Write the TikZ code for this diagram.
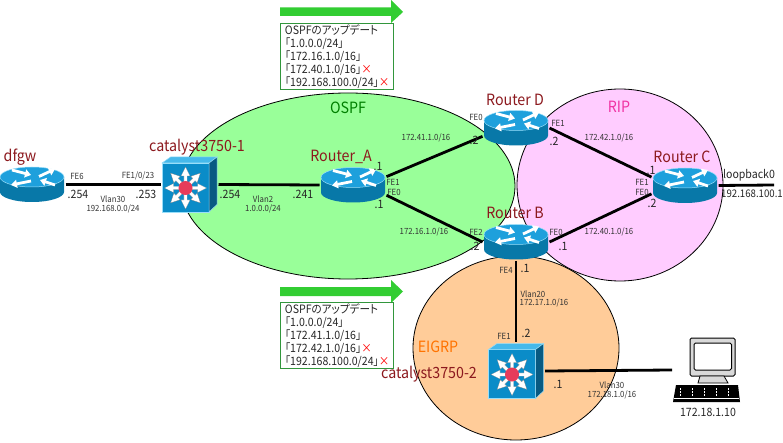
\documentclass[tikz,border=0pt]{standalone}
\usepackage{fontspec}
\setmainfont[FakeStretch=0.92,RawFeature=+palt]{Noto Sans CJK JP}
\usetikzlibrary{arrows.meta}

\definecolor{routertop}{RGB}{30,160,220}
\definecolor{routerside}{RGB}{8,120,168}
\definecolor{switchfront}{RGB}{10,140,200}
\definecolor{switchtop}{RGB}{70,185,235}
\definecolor{switchside}{RGB}{8,90,130}
\definecolor{switchhub}{RGB}{230,60,90}
\definecolor{namered}{RGB}{140,25,30}
\definecolor{ospfgreen}{RGB}{153,255,153}
\definecolor{ripviolet}{RGB}{255,204,255}
\definecolor{eigrporange}{RGB}{255,204,153}
\definecolor{arrowgreen}{RGB}{50,205,50}
\definecolor{boxgreen}{RGB}{50,150,60}

\tikzset{
    area/.style={draw=black, line width=0.8pt},
    linkline/.style={draw=black, line width=2.8pt},
    routerbox/.style={minimum width=67pt, minimum height=38pt, inner sep=0pt, outer sep=0pt},
    switchbox/.style={minimum width=56pt, minimum height=56pt, inner sep=0pt, outer sep=1pt},
    hostbox/.style={minimum width=68pt, minimum height=66pt, inner sep=0pt, outer sep=0pt},
    namelabel/.style={text=namered, inner sep=0pt, font=\fontsize{15.5}{16}\selectfont},
    tinylabel/.style={text=black!80, inner sep=0pt, font=\fontsize{8.5}{9}\selectfont},
    midlabel/.style={text=black!85, inner sep=0pt, font=\fontsize{11.5}{12}\selectfont},
    updatebox/.style={draw=boxgreen, line width=0.8pt, anchor=north west, align=left,
        text width=104pt, minimum height=65pt, inner xsep=4.5pt, inner ysep=1pt,
        text=black!85, font=\fontsize{11.5}{13}\selectfont},
    routerarrow/.style={white, line width=2.8pt, -{Triangle[width=8pt,length=6pt]}},
    routericon/.pic={
        \fill[routerside] (-32,-7.5) -- (-32,7.5) arc[start angle=180, end angle=360, x radius=32pt, y radius=10pt] -- (32,-7.5) -- cycle;
        \fill[routertop, draw=cyan!40, line width=0.5pt] (0,-7.5) ellipse [x radius=32pt, y radius=10pt];
        \draw[routerarrow] (-20,-14.5) -- (-1,-9.5);
        \draw[routerarrow] (7,-8) -- (23,-15.5);
        \draw[routerarrow] (-1,-3.5) -- (-21,0.5);
        \draw[routerarrow] (23,0.5) -- (8,-4.5);
    },
    switchicon/.pic={
        \fill[switchfront, draw=cyan!40, line width=0.5pt] (-27.5,-21.5) rectangle (19.5,27.5);
        \fill[switchtop, draw=cyan!40, line width=0.5pt] (-27.5,-21.5) -- (-19,-27.5) -- (27.5,-27.5) -- (19.5,-21.5) -- cycle;
        \fill[switchside, draw=cyan!40, line width=0.5pt] (19.5,-21.5) -- (27.5,-27.5) -- (27.5,20) -- (19.5,27.5) -- cycle;
        \foreach \ang in {0,45,...,315} {
            \fill[white, draw=black!50, line width=0.2pt, rotate around={\ang:(-4,3.5)}]
                (-4,1.9) -- (8,1.9) -- (8,-1) -- (17,3.5) -- (8,8) -- (8,5.1) -- (-4,5.1) -- cycle;
        }
        \fill[switchhub] (-4,3.5) circle (7pt);
    },
    hosticon/.pic={
        \fill[black!15, draw=black, line width=1pt, rounded corners=1.5pt] (-16,-32) rectangle (29,6);
        \fill[white, draw=black, line width=1pt, rounded corners=1.5pt] (-12,-27) rectangle (25.5,0);
        \fill[black!15, draw=black, line width=0.8pt] (-6,6) -- (18,6) -- (22,13) -- (-8,13) -- cycle;
        \fill[black] (-30,15) -- (32,15) -- (34,32) -- (-33,32) -- cycle;
        \draw[white, line width=0.6pt] (-32,28.5) -- (33,28.5);
        \foreach \keyx in {-26,-14,...,30} {
            \draw[white, line width=0.4pt, densely dotted] (\keyx,18) -- (\keyx,26);
        }
    }
}

\begin{document}
\begin{tikzpicture}[x=1pt,y=-1pt]
    \useasboundingbox (0,0) rectangle (783,443);

    % routing areas
    \draw[area, fill=ospfgreen] (348,186) ellipse [x radius=167pt, y radius=93pt];
    \draw[area, fill=ripviolet] (620,185) ellipse [x radius=103pt, y radius=96pt];
    \draw[area, fill=eigrporange] (516,348) ellipse [x radius=103pt, y radius=92pt];

    % devices
    \node[routerbox] (dfgw) at (32,184.5) {};
    \node[switchbox] (catalystone) at (189.5,184.5) {};
    \node[routerbox] (routerA) at (353,185) {};
    \node[routerbox] (routerD) at (516,128) {};
    \node[routerbox] (routerB) at (516,242) {};
    \node[routerbox] (routerC) at (685,185.5) {};
    \node[switchbox] (catalysttwo) at (516,371) {};
    \node[hostbox] (host) at (706,370) {};
    \coordinate (loopend) at (774,185);

    % links
    \draw[linkline] (dfgw.east) -- (catalystone.west);
    \draw[linkline] (catalystone.east) -- (routerA.west);
    \draw[linkline] (routerA.14) -- (routerD.194);
    \draw[linkline] (routerA.-17) -- (routerB.west);
    \draw[linkline] (routerD.east) -- (routerC.166);
    \draw[linkline] (routerB.east) -- (routerC.194);
    \draw[linkline] (routerC.east) -- (loopend);
    \draw[linkline] (routerB.south) -- (catalysttwo.north);
    \draw[linkline] (catalysttwo.east) -- (host.west);

    \pic at (dfgw.center) {routericon};
    \pic at (routerA.center) {routericon};
    \pic at (routerD.center) {routericon};
    \pic at (routerB.center) {routericon};
    \pic at (routerC.center) {routericon};
    \pic at (catalystone.center) {switchicon};
    \pic at (catalysttwo.center) {switchicon};
    \pic at (host.center) {hosticon};

    % area names
    \node[inner sep=0pt, text=green!50!black, font=\fontsize{15.5}{16}\selectfont] (ospfname) at (348,108) {OSPF};
    \node[inner sep=0pt, text=magenta!80!white, font=\fontsize{15.5}{16}\selectfont] (ripname) at (619,107) {RIP};
    \node[inner sep=0pt, text=orange!90!red, font=\fontsize{15.5}{16}\selectfont] (eigrpname) at (438,347) {EIGRP};

    % device names
    \node[namelabel] (dfgwname) at (20,157) {dfgw};
    \node[namelabel] (catalystonename) at (197,147) {catalyst3750-1};
    \node[namelabel] (routerAname) at (341,157) {Router\_A};
    \node[namelabel] (routerDname) at (515,100) {Router D};
    \node[namelabel] (routerBname) at (515,213) {Router B};
    \node[namelabel] (routerCname) at (682,157) {Router C};
    \node[namelabel] (catalysttwoname) at (429,374) {catalyst3750-2};

    % update notes
    \fill[arrowgreen] (280,7.3) -- (391,7.3) -- (391,0) -- (403,12) -- (391,23) -- (391,16) -- (280,16) -- cycle;
    \node[updatebox] (updatetop) at (280,23) {OSPFのアップデート\\「1.0.0.0/24」\\「172.16.1.0/16」\\「172.40.1.0/16」{\color{red}×}\\「192.168.100.0/24」{\color{red}×}};
    \fill[arrowgreen] (280,287) -- (391,287) -- (391,280) -- (403,291.5) -- (391,303) -- (391,296) -- (280,296) -- cycle;
    \node[updatebox] (updatebottom) at (280,302) {OSPFのアップデート\\「1.0.0.0/24」\\「172.41.1.0/16」\\「172.42.1.0/16」{\color{red}×}\\「192.168.100.0/24」{\color{red}×}};

    % link labels, left
    \node[tinylabel] (fesix) at (77,176) {FE6};
    \node[tinylabel] (feonezero) at (138,176) {FE1/0/23};
    \node[midlabel] (dfgwip) at (78,194) {.254};
    \node[midlabel] (catalystoneip) at (146,194) {.253};
    \node[tinylabel] (vlanthirty) at (113,199) {Vlan30};
    \node[tinylabel] (nettop) at (113,209) {192.168.0.0/24};
    \node[midlabel] (catalystoneb) at (230,194) {.254};
    \node[tinylabel] (vlantwo) at (263,199) {Vlan2};
    \node[tinylabel] (netone) at (263,209) {1.0.0.0/24};
    \node[midlabel] (routerAip) at (303,194) {.241};

    % link labels, Router_A and Router D
    \node[midlabel] (routerAup) at (378,166) {.1};
    \node[tinylabel] (routerAfeone) at (393,182) {FE1};
    \node[tinylabel] (routerAfezero) at (394,192) {FE0};
    \node[midlabel] (routerAdown) at (379,204) {.1};
    \node[tinylabel] (netfortyone) at (426,138) {172.41.1.0/16};
    \node[midlabel] (routerDip) at (474,140) {.2};
    \node[tinylabel] (routerDfezero) at (476,117) {FE0};
    \node[tinylabel] (routerDfeone) at (558,123) {FE1};
    \node[midlabel] (routerDipb) at (554,141) {.2};
    \node[tinylabel] (netfortytwo) at (609,138) {172.42.1.0/16};

    % link labels, Router B
    \node[tinylabel] (netsixteen) at (424,232) {172.16.1.0/16};
    \node[tinylabel] (routerBfetwo) at (476,232) {FE2};
    \node[midlabel] (routerBip) at (475,246) {.2};
    \node[tinylabel] (routerBfezero) at (556,232) {FE0};
    \node[midlabel] (routerBipb) at (563,246) {.1};
    \node[tinylabel] (routerBfefour) at (506,270) {FE4};
    \node[midlabel] (routerBipc) at (525,268) {.1};
    \node[tinylabel] (netforty) at (609,232) {172.40.1.0/16};

    % link labels, Router C
    \node[midlabel] (routerCup) at (651,170) {.1};
    \node[tinylabel] (routerCfeone) at (642,182) {FE1};
    \node[tinylabel] (routerCfezero) at (642,192) {FE0};
    \node[midlabel] (routerCdown) at (652,203) {.2};
    \node[midlabel] (loopname) at (749,175) {loopback0};
    \node[midlabel, font=\fontsize{10.5}{11}\selectfont] (loopip) at (752,194) {192.168.100.1};

    % link labels, EIGRP side
    \node[tinylabel] (vlantwenty) at (533,294) {Vlan20};
    \node[tinylabel] (netseventeen) at (544,303) {172.17.1.0/16};
    \node[tinylabel] (catalysttwofe) at (504,336) {FE1};
    \node[midlabel] (catalysttwoip) at (526,333) {.2};
    \node[midlabel] (catalysttwoipb) at (558,384) {.1};
    \node[tinylabel] (vlanhost) at (612,385) {Vlan30};
    \node[tinylabel] (nethost) at (612,395) {172.18.1.0/16};
    \node[midlabel] (hostip) at (708,412) {172.18.1.10};
\end{tikzpicture}
\end{document}
